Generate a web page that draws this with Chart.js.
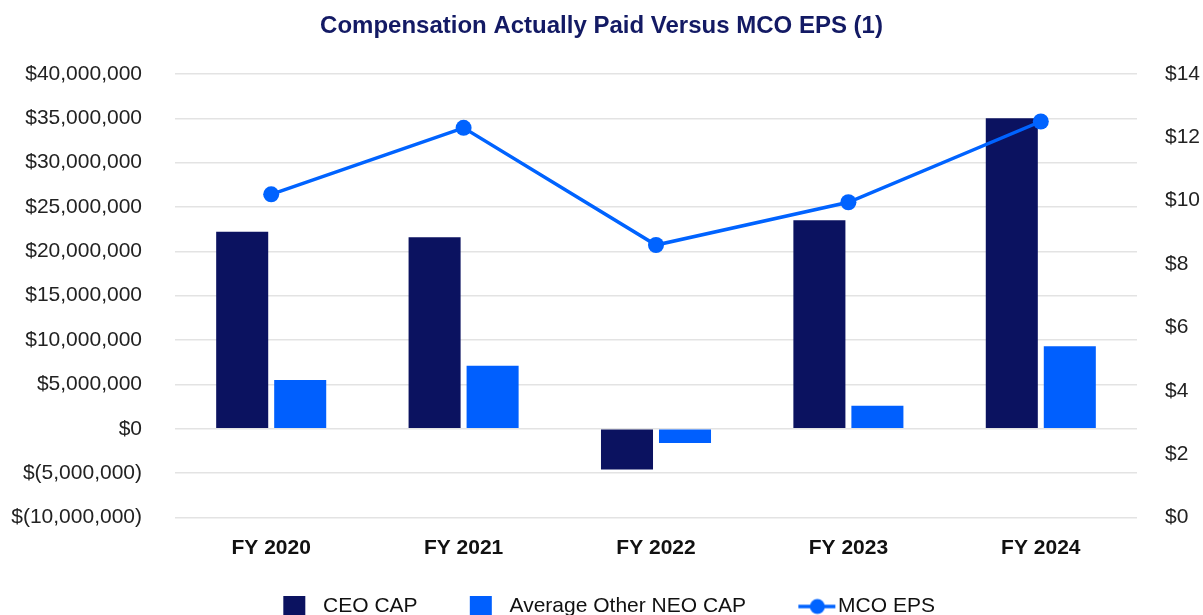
<!DOCTYPE html>
<html>
<head>
<meta charset="utf-8">
<script src="https://cdn.jsdelivr.net/npm/chart.js@4"></script>
<style>
  html, body { margin: 0; padding: 0; background: #fff; overflow: hidden; }
  #wrap { width: 1203px; height: 627px; }
</style>
</head>
<body>
<div id="wrap"><canvas id="capChart"></canvas></div>
<script>
const categories = ['FY 2020', 'FY 2021', 'FY 2022', 'FY 2023', 'FY 2024'];
const ceoCap = [22200000, 21600000, -4600000, 23500000, 35000000];
const neoCap = [5500000, 7100000, -1600000, 2600000, 9300000];
const mcoEps = [10.2, 12.3, 8.6, 9.95, 12.5];

const NAVY = '#0b1260';
const BLUE = '#005ffe';
const LINE_BLUE = '#0063ff';
const FONT = '"Liberation Sans", Arial, sans-serif';
const SWATCH_W = 44.5;

// legend swatches, drawn once on small canvases (blank left part = item spacing)
function squareSwatch(color) {
  const c = document.createElement('canvas');
  c.width = SWATCH_W; c.height = 22;
  const g = c.getContext('2d');
  g.fillStyle = color;
  g.fillRect(SWATCH_W - 29.5, 0, 22, 22);
  return c;
}
function lineSwatch(color) {
  const c = document.createElement('canvas');
  c.width = 66; c.height = 18;
  const g = c.getContext('2d');
  g.strokeStyle = color;
  g.lineWidth = 3.5;
  g.beginPath(); g.moveTo(26, 9); g.lineTo(63, 9); g.stroke();
  g.fillStyle = color;
  g.beginPath(); g.arc(45, 9, 7.5, 0, Math.PI * 2); g.fill();
  return c;
}
const swatches = [squareSwatch(NAVY), squareSwatch(BLUE), lineSwatch(LINE_BLUE)];

function fmtDollars(v) {
  if (v === 0) return '$0';
  const s = Math.abs(v).toLocaleString('en-US');
  return v < 0 ? '$(' + s + ')' : '$' + s;
}

const ctx = document.getElementById('capChart').getContext('2d');
new Chart(ctx, {
  type: 'bar',
  data: {
    labels: categories,
    datasets: [
      {
        label: 'CEO CAP',
        data: ceoCap,
        backgroundColor: NAVY,
        yAxisID: 'y',
        order: 1,
        categoryPercentage: 0.603,
        barPercentage: 0.897
      },
      {
        label: 'Average Other NEO CAP',
        data: neoCap,
        backgroundColor: BLUE,
        yAxisID: 'y',
        order: 1,
        categoryPercentage: 0.603,
        barPercentage: 0.897
      },
      {
        type: 'line',
        label: 'MCO EPS',
        data: mcoEps,
        borderColor: LINE_BLUE,
        backgroundColor: LINE_BLUE,
        borderWidth: 3.5,
        pointRadius: 8,
        pointHoverRadius: 8,
        pointBackgroundColor: LINE_BLUE,
        pointBorderWidth: 0,
        tension: 0,
        yAxisID: 'y1',
        order: 0
      }
    ]
  },
  options: {
    responsive: true,
    maintainAspectRatio: false,
    animation: false,
    layout: { padding: 0 },
    plugins: {
      title: {
        display: true,
        text: 'Compensation Actually Paid Versus MCO EPS (1)',
        color: '#131a64',
        font: { family: FONT, size: 24, weight: 'bold' },
        padding: { top: 11.6, bottom: 33.6 }
      },
      legend: {
        position: 'bottom',
        labels: {
          usePointStyle: true,
          pointStyleWidth: SWATCH_W,
          boxHeight: 21,
          padding: 37,
          color: '#111',
          font: { family: FONT, size: 21 },
          sort: (a, b) => a.datasetIndex - b.datasetIndex,
          generateLabels: (chart) => {
            const items = Chart.defaults.plugins.legend.labels.generateLabels(chart);
            items.forEach(it => { it.pointStyle = swatches[it.datasetIndex]; });
            return items;
          }
        }
      },
      tooltip: { enabled: false }
    },
    scales: {
      x: {
        grid: { display: false, drawTicks: false },
        border: { display: false },
        ticks: { color: '#111', padding: 18.4, font: { family: FONT, size: 21, weight: 'bold' } },
        afterFit: (scale) => { scale.height = 41.6; }
      },
      y: {
        position: 'left',
        min: -10000000,
        max: 40000000,
        grid: { color: '#e3e3e3', lineWidth: 1.6, drawTicks: false },
        border: { display: false },
        ticks: {
          stepSize: 5000000,
          padding: 33,
          color: '#222',
          font: { family: FONT, size: 21 },
          callback: (v) => fmtDollars(v)
        },
        afterFit: (scale) => { scale.width = 175; }
      },
      y1: {
        position: 'right',
        min: 0,
        max: 14,
        grid: { display: false, drawTicks: false },
        border: { display: false },
        ticks: {
          stepSize: 2,
          padding: 28,
          color: '#222',
          font: { family: FONT, size: 21 },
          callback: (v) => '$' + v
        },
        afterFit: (scale) => { scale.width = 66; }
      }
    }
  }
});
</script>
</body>
</html>
